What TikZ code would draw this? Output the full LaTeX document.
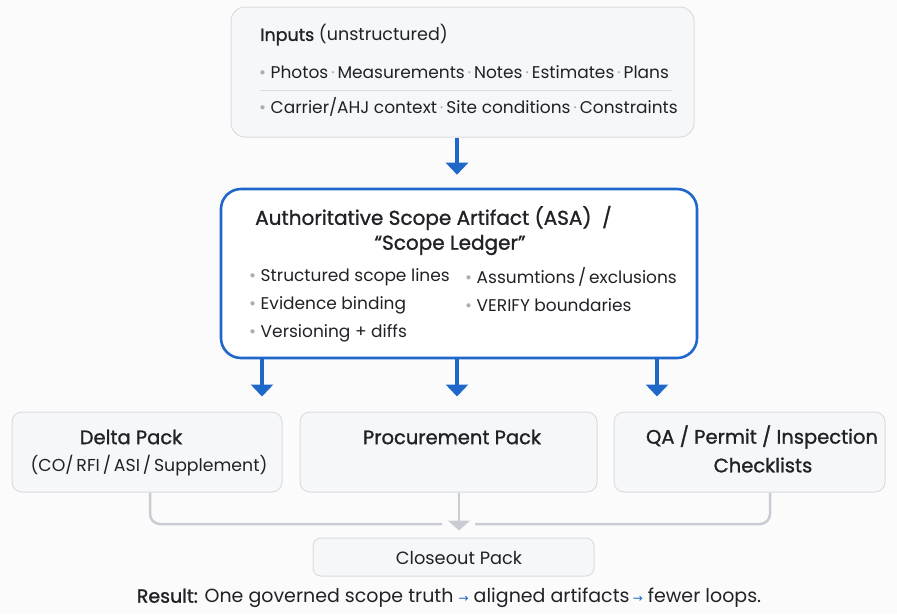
\documentclass[tikz,border=0pt]{standalone}
\usepackage{fontspec}
\setmainfont{Poppins}
\newfontfamily\semib[FakeBold=1.2]{Poppins}
\newfontfamily\arrfont{DejaVu Sans}
\usetikzlibrary{arrows.meta,calc}
\definecolor{bluec}{HTML}{1F68C9}
\definecolor{boxfill}{HTML}{F6F7F9}
\definecolor{boxline}{HTML}{D9DCE1}
\definecolor{txt}{HTML}{202226}
\definecolor{dotc}{HTML}{A9AEB6}
\definecolor{conn}{HTML}{C9CDD3}
\definecolor{bgc}{HTML}{FBFBFC}
\newcommand{\sepdot}{\textcolor{dotc}{\,·\,}}
\newcommand{\bul}{\textcolor{dotc}{•}\ }
\newcommand{\rarr}{\textcolor{bluec}{\arrfont\fontsize{12}{13}\selectfont→}}
\tikzset{
  softbox/.style={draw=boxline, line width=1pt, fill=boxfill, rounded corners=14pt, inner sep=0pt},
  mainbox/.style={draw=bluec, line width=2.6pt, fill=white, rounded corners=20pt, inner sep=0pt},
  bluearrow/.style={draw=bluec, line width=4.5pt, -{Triangle[width=22pt,length=12pt]}},
  grayconn/.style={draw=conn, line width=2.5pt, rounded corners=10pt},
  grayarrow/.style={draw=conn, line width=2.5pt, -{Triangle[width=22pt,length=10pt]}},
  lbl/.style={inner sep=0pt, text=txt, font=\fontsize{17}{20}\selectfont},
  tlbl/.style={inner sep=0pt, text=txt, font=\semib\fontsize{19.5}{22}\selectfont},
}
\begin{document}
\begin{tikzpicture}[x=1pt,y=-1pt]
\useasboundingbox (0,0) rectangle (897,614);
\fill[bgc] (0,0) rectangle (897,614);
% boxes
\node[softbox, minimum width=463pt, minimum height=130pt] (inputs) at (462.5,72) {};
\node[mainbox, minimum width=476pt, minimum height=169pt] (asa) at (459,273.5) {};
\node[softbox, rounded corners=10pt, minimum width=270pt, minimum height=80pt] (delta) at (147,452) {};
\node[softbox, rounded corners=10pt, minimum width=297pt, minimum height=80pt] (proc) at (448.5,452) {};
\node[softbox, rounded corners=10pt, minimum width=271pt, minimum height=80pt] (qa) at (749.5,452) {};
\node[softbox, rounded corners=8pt, minimum width=281pt, minimum height=38pt] (close) at (453.5,557) {};
% inputs text
\node[lbl, anchor=west, font=\fontsize{17.5}{20}\selectfont] (intitle) at (260,35) {{\semib Inputs} (unstructured)};
\node[lbl, anchor=west] (inl1) at (259,72) {\bul Photos\sepdot Measurements\sepdot Notes\sepdot Estimates\sepdot Plans};
\draw[boxline, line width=0.8pt] (260,90) -- (672,90);
\node[lbl, anchor=west] (inl2) at (259,107) {\bul Carrier/AHJ context\sepdot Site conditions\sepdot Constraints};
% ASA text
\node[tlbl, anchor=west, font=\semib\fontsize{20}{23}\selectfont] (asat1) at (255,218) {Authoritative Scope Artifact (ASA)\ \ /};
\node[tlbl, font=\semib\fontsize{20}{23}\selectfont] (asat2) at (450,245) {“Scope Ledger”};
\node[lbl, anchor=west] (a1) at (249,277) {\bul Structured scope lines};
\node[lbl, anchor=west] (a2) at (249,305) {\bul Evidence binding};
\node[lbl, anchor=west] (a3) at (249,333) {\bul Versioning + diffs};
\node[lbl, anchor=west] (a4) at (465,277) {\bul Assumtions\,/\,exclusions};
\node[lbl, anchor=west] (a5) at (465,305) {\bul VERIFY boundaries};
% bottom box texts
\node[tlbl] (dt1) at (131,437) {Delta Pack};
\node[lbl, font=\fontsize{17.3}{20}\selectfont] (dt2) at (149,466) {(CO/\,RFI\,/\,ASI\,/\,Supplement)};
\node[tlbl] (pt1) at (452,437) {Procurement Pack};
\node[tlbl] (qt1) at (762,437) {QA / Permit / Inspection};
\node[tlbl] (qt2) at (763,465) {Checklists};
\node[lbl, font=\fontsize{17.8}{20}\selectfont] (ct) at (459,558) {Closeout Pack};
\node[lbl, font=\fontsize{19}{22}\selectfont] (res) at (449,598) {{\semib Result:} One governed scope truth \rarr\ aligned artifacts\,\rarr\ fewer loops.};
% arrows
\draw[bluearrow, shorten >=13pt] (inputs.south -| 457,0) -- (asa.north -| 457,0);
\draw[bluearrow, shorten >=15pt] (asa.south -| 262,0) -- (delta.north -| 262,0);
\draw[bluearrow, shorten >=15pt] (asa.south -| 457,0) -- (proc.north -| 457,0);
\draw[bluearrow, shorten >=15pt] (asa.south -| 657,0) -- (qa.north -| 657,0);
% gray connectors
\coordinate (mleft) at (442,524);
\coordinate (mright) at (475,524);
\draw[grayconn] (delta.south -| 150,0) -- (150,524) -- (mleft);
\draw[grayconn] (qa.south -| 770,0) -- (770,524) -- (mright);
\draw[grayarrow, shorten >=7pt] (proc.south -| 459,0) -- (close.north -| 459,0);
\end{tikzpicture}
\end{document}
